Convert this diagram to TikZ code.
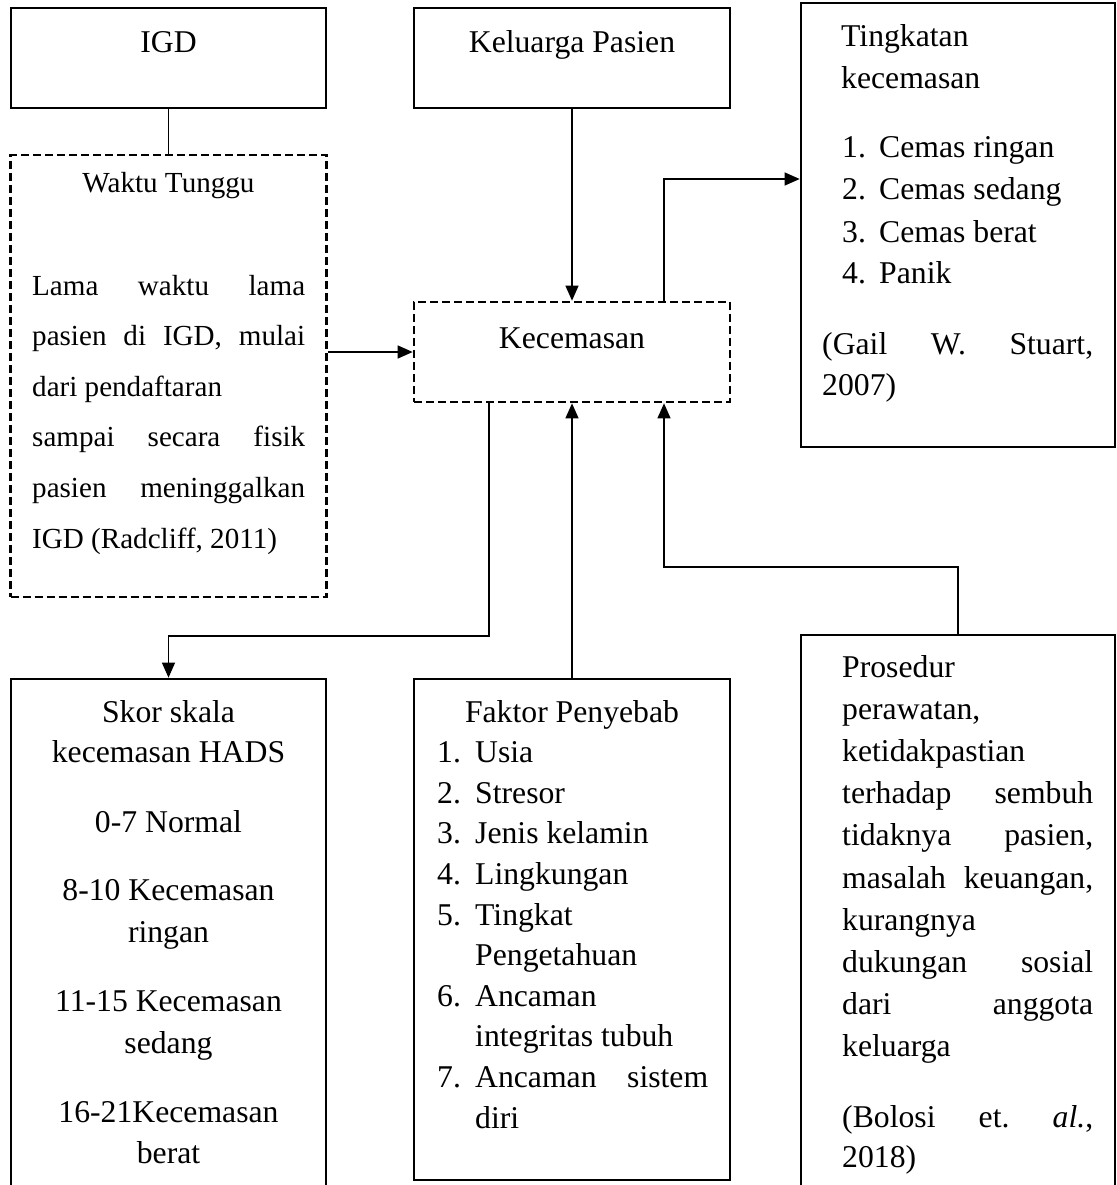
\documentclass[tikz,border=0pt]{standalone}
\usepackage{fontspec}
\setmainfont{Liberation Serif}
\usetikzlibrary{arrows.meta}
\newcommand\fontA{\fontsize{31.7}{40}\selectfont}
\newcommand\fontB{\fontsize{29.1}{36}\selectfont}
\begin{document}
\begin{tikzpicture}[x=1pt,y=-1pt,
  box/.style={draw, line width=2.7pt, inner sep=0pt, rectangle},
  dbox/.style={box, dash pattern=on 8pt off 4pt},
  conn/.style={line width=1.3pt},
  arr/.style={conn, -{Triangle[length=15pt,width=13pt]}},
  txt/.style={inner sep=0pt, anchor=base west, font=\fontA},
  ctxt/.style={inner sep=0pt, anchor=base, font=\fontA},
  txtb/.style={inner sep=0pt, anchor=base west, font=\fontB},
  ctxtb/.style={inner sep=0pt, anchor=base, font=\fontB}]
\clip (0,0) rectangle (1116,1185);
% boxes
\node[box, minimum width=315pt, minimum height=100pt] (igd) at (168.5,58) {};
\node[box, minimum width=316pt, minimum height=100pt] (kel) at (572,58) {};
\node[box, minimum width=314pt, minimum height=444pt] (ting) at (958,225) {};
\node[dbox, minimum width=316pt, minimum height=442pt] (waktu) at (168.5,376) {};
\node[dbox, minimum width=316pt, minimum height=100pt] (kec) at (572,352) {};
\node[box, minimum width=315pt, minimum height=521pt] (skor) at (168.5,939.5) {};
\node[box, minimum width=316pt, minimum height=501pt] (fak) at (572,929.5) {};
\node[box, minimum width=314pt, minimum height=565pt] (pro) at (958,917.5) {};
% connectors
\coordinate (c1) at (664,179);
\coordinate (c2) at (489,636);
\coordinate (c3) at (664,567);
\draw[conn] (igd.south) -- (waktu.north);
\draw[arr] (kel.south) -- (kec.north);
\draw[arr] (waktu.east |- kec.west) -- (kec.west);
\draw[arr] (kec.north -| c1) |- (ting.west |- c1);
\draw[arr] (kec.south -| c2) -- (c2) -| (skor.north);
\draw[arr] (fak.north) -- (kec.south);
\draw[arr] (pro.north) |- (c3) -- (kec.south -| c3);
% texts
\node[ctxt] (tigd) at (168.5,53) {IGD};
\node[ctxt] (tkel) at (572,53) {Keluarga Pasien};
\node[ctxt] (tkec) at (572,348) {Kecemasan};
% Tingkatan
\node[txt] (ti1) at (841,47) {Tingkatan};
\node[txt] (ti2) at (841,89) {kecemasan};
\node[txt] (ti3) at (842,158) {\makebox[37pt][l]{1.}Cemas ringan};
\node[txt] (ti4) at (842,200) {\makebox[37pt][l]{2.}Cemas sedang};
\node[txt] (ti5) at (842,242) {\makebox[37pt][l]{3.}Cemas berat};
\node[txt] (ti6) at (842,283) {\makebox[37pt][l]{4.}Panik};
\node[txt] (ti7) at (822,354) {\hbox to 271pt{(Gail\hfill W.\hfill Stuart,}};
\node[txt] (ti8) at (822,395) {2007)};
% Waktu Tunggu
\node[ctxtb] (wt) at (168.5,193) {Waktu Tunggu};
\node[txtb] (w1) at (32,295) {\hbox to 273pt{Lama\hfill waktu\hfill lama}};
\node[txtb] (w2) at (32,345.6) {\hbox to 273pt{pasien\hfill di\hfill IGD,\hfill mulai}};
\node[txtb] (w3) at (32,396.2) {dari pendaftaran};
\node[txtb] (w4) at (32,446.8) {\hbox to 273pt{sampai\hfill secara\hfill fisik}};
\node[txtb] (w5) at (32,497.4) {\hbox to 273pt{pasien\hfill meninggalkan}};
\node[txtb] (w6) at (32,548) {IGD (Radcliff, 2011)};
% Skor
\node[ctxt] (s1) at (168.5,722) {Skor skala};
\node[ctxt] (s2) at (168.5,762) {kecemasan HADS};
\node[ctxt] (s3) at (168.5,832) {0-7 Normal};
\node[ctxt] (s4) at (168.5,900) {8-10 Kecemasan};
\node[ctxt] (s5) at (168.5,942) {ringan};
\node[ctxt] (s6) at (168.5,1011) {11-15 Kecemasan};
\node[ctxt] (s7) at (168.5,1053) {sedang};
\node[ctxt] (s8) at (168.5,1122) {16-21Kecemasan};
\node[ctxt] (s9) at (168.5,1163) {berat};
% Faktor
\node[ctxt] (f0) at (572,722) {Faktor Penyebab};
\node[txt] (f1) at (437,762.6) {\makebox[38pt][l]{1.}Usia};
\node[txt] (f2) at (437,803.2) {\makebox[38pt][l]{2.}Stresor};
\node[txt] (f3) at (437,843.8) {\makebox[38pt][l]{3.}Jenis kelamin};
\node[txt] (f4) at (437,884.4) {\makebox[38pt][l]{4.}Lingkungan};
\node[txt] (f5) at (437,925) {\makebox[38pt][l]{5.}Tingkat};
\node[txt] (f5b) at (475,965.6) {Pengetahuan};
\node[txt] (f6) at (437,1006.2) {\makebox[38pt][l]{6.}Ancaman};
\node[txt] (f6b) at (475,1046.8) {integritas tubuh};
\node[txt] (f7) at (437,1087.4) {\makebox[38pt][l]{7.}\hbox to 233pt{Ancaman\hfill sistem}};
\node[txt] (f7b) at (475,1128) {diri};
% Prosedur
\node[txt] (p1) at (842,677) {Prosedur};
\node[txt] (p2) at (842,719.2) {perawatan,};
\node[txt] (p3) at (842,761.4) {ketidakpastian};
\node[txt] (p4) at (842,803.6) {\hbox to 251pt{terhadap\hfill sembuh}};
\node[txt] (p5) at (842,845.8) {\hbox to 251pt{tidaknya\hfill pasien,}};
\node[txt] (p6) at (842,888) {\hbox to 251pt{masalah\hfill keuangan,}};
\node[txt] (p7) at (842,930.2) {kurangnya};
\node[txt] (p8) at (842,972.4) {\hbox to 251pt{dukungan\hfill sosial}};
\node[txt] (p9) at (842,1014.6) {\hbox to 251pt{dari\hfill anggota}};
\node[txt] (p10) at (842,1056.8) {keluarga};
\node[txt] (p11) at (842,1127) {\hbox to 251pt{(Bolosi\hfill et.\hfill \textit{al.},}};
\node[txt] (p12) at (842,1167) {2018)};
\end{tikzpicture}
\end{document}
